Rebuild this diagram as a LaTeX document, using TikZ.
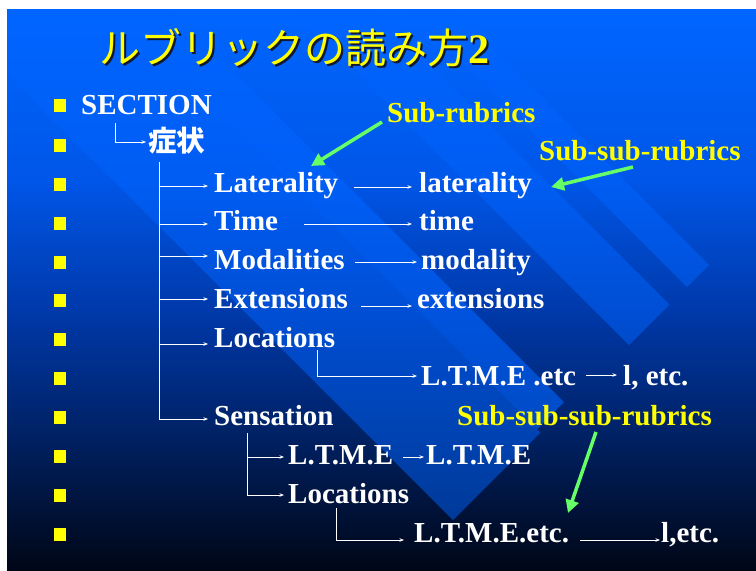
\documentclass[tikz,border=0pt]{standalone}
\usepackage{fontspec}
\setmainfont{Liberation Serif}
\newfontfamily\cjk{Noto Sans CJK JP}
\usetikzlibrary{arrows.meta}
\definecolor{bgA}{RGB}{0,102,255}
\definecolor{bgB}{RGB}{0,86,232}
\definecolor{bgC}{RGB}{0,55,165}
\definecolor{bgD}{RGB}{0,28,85}
\definecolor{bgE}{RGB}{0,6,22}
\definecolor{stripecol}{RGB}{0,100,255}
\definecolor{ylw}{RGB}{255,255,0}
\definecolor{grn}{RGB}{102,255,102}
\definecolor{shadowcol}{RGB}{20,25,50}
\newcommand\dstripe[4]{\fill[stripecol,fill opacity=#4]
  ({(-400+#1)/2},{(-400-#1)/2}) -- ({(#3+#1)/2},{(#3-#1)/2}) --
  ({(#3+#2)/2},{(#3-#2)/2}) -- ({(-400+#2)/2},{(-400-#2)/2}) -- cycle;}
\newcommand\ttltext{{\cjk\fontsize{41}{43}\selectfont ルブリックの読み方}{\bfseries\fontsize{42}{44}\selectfont 2}}
\begin{document}
\begin{tikzpicture}[x=1pt,y=-1pt,
  txt/.style={text=white,font=\bfseries\fontsize{29}{31}\selectfont,inner sep=0pt,anchor=base west},
  lbl/.style={txt,text=ylw},
  conn/.style={draw=white,line width=0.8pt,-{Stealth[length=4.5pt,width=3.5pt]}},
  garrow/.style={draw=grn,line width=3.5pt,-{Triangle[length=13pt,width=13pt]}},
  bul/.style={fill=ylw,minimum width=12pt,minimum height=13pt,inner sep=0pt,draw=none},
  ttl/.style={inner sep=0pt,anchor=base west}]
\useasboundingbox (0,0) rectangle (756,571);
\fill[white] (0,0) rectangle (756,571);
% background gradient
\shade[top color=bgA,bottom color=bgB] (7,9) rectangle (756,181);
\shade[top color=bgB,bottom color=bgC] (7,180) rectangle (756,321);
\shade[top color=bgC,bottom color=bgD] (7,320) rectangle (756,461);
\shade[top color=bgD,bottom color=bgE] (7,460) rectangle (756,571);
% diagonal stripes
\begin{scope}
\clip (7,9) rectangle (756,571);
\dstripe{-67}{108}{973}{0.5}
\dstripe{108}{162}{966}{0.62}
\dstripe{284}{365}{974}{0.5}
\dstripe{400}{444}{974}{0.5}
\end{scope}
% title with shadow (one node)
\node[ttl] (ttl) at (99,63)
  {\makebox[0pt][l]{\hspace{2.5pt}\raisebox{-2.5pt}{\color{shadowcol}\ttltext}}\color{ylw}\ttltext};
% bullets
\foreach \yy [count=\i] in {105,145,184,223,262,300,339,378,417,456,495,534}
  \node[bul] (b\i) at (60,\yy) {};
% texts
\node[txt] (sec) at (81,114) {SECTION};
\node[txt,font=\cjk\bfseries\fontsize{28.5}{30}\selectfont] (shz) at (148,151) {症状};
\node[txt] (lat) at (214,192) {Laterality};
\node[txt] (tim) at (214,230) {Time};
\node[txt] (mod) at (214,269) {Modalities};
\node[txt] (ext) at (214,308) {Extensions};
\node[txt] (loc) at (214,347) {Locations};
\node[txt] (sen) at (214,425) {Sensation};
\node[txt] (lat2) at (419,192) {laterality};
\node[txt] (tim2) at (419,230) {time};
\node[txt] (mod2) at (421,269) {modality};
\node[txt] (ext2) at (417,308) {extensions};
\node[txt] (ltme1) at (421,385) {L.T.M.E .etc};
\node[txt] (letc1) at (623,385) {l, etc.};
\node[txt] (ltme2) at (288,464) {L.T.M.E};
\node[txt] (ltme3) at (426,464) {L.T.M.E};
\node[txt] (loc2) at (288,503) {Locations};
\node[txt] (ltme4) at (414,542) {L.T.M.E.etc.};
\node[txt] (letc2) at (661,542) {l,etc.};
\node[lbl] (sr) at (387,122) {Sub-rubrics};
\node[lbl] (ssr) at (539,160) {Sub-sub-rubrics};
\node[lbl] (sssr) at (457,425) {Sub-sub-sub-rubrics};
% connectors
\coordinate (c0) at (115,123);
\draw[conn] (c0) |- ([xshift=-2pt]shz.west |- 0,142);
\coordinate (t1) at (159,162);
\draw[conn] (t1) |- ([xshift=-6pt]sen.west |- 0,419);
\draw[conn] (t1 |- 0,186) -- ([xshift=-6pt]lat.west |- 0,186);
\draw[conn] (t1 |- 0,224) -- ([xshift=-6pt]tim.west |- 0,224);
\draw[conn] (t1 |- 0,256) -- ([xshift=-6pt]mod.west |- 0,256);
\draw[conn] (t1 |- 0,299) -- ([xshift=-6pt]ext.west |- 0,299);
\draw[conn] (t1 |- 0,344) -- ([xshift=-6pt]loc.west |- 0,344);
\draw[conn] ([xshift=16pt]lat.east |- 0,187) -- ([xshift=-7pt]lat2.west |- 0,187);
\draw[conn] ([xshift=26pt]tim.east |- 0,224) -- ([xshift=-7pt]tim2.west |- 0,224);
\draw[conn] ([xshift=10pt]mod.east |- 0,262) -- ([xshift=-4pt]mod2.west |- 0,262);
\draw[conn] ([xshift=13pt]ext.east |- 0,306) -- ([xshift=-5pt]ext2.west |- 0,306);
\coordinate (c1) at (317,350);
\draw[conn] (c1) |- ([xshift=-4pt]ltme1.west |- 0,376);
\draw[conn] ([xshift=10pt]ltme1.east |- 0,375) -- ([xshift=-6pt]letc1.west |- 0,375);
\coordinate (t2) at (247,433);
\draw[conn] (t2) |- ([xshift=-4pt]ltme2.west |- 0,457);
\draw[conn] (t2) |- ([xshift=-4pt]loc2.west |- 0,495);
\draw[conn] ([xshift=10pt]ltme2.east |- 0,457) -- ([xshift=-2pt]ltme3.west |- 0,457);
\coordinate (c3) at (336,508);
\draw[conn] (c3) |- ([xshift=-10pt]ltme4.west |- 0,540);
\draw[conn] ([xshift=11pt]ltme4.east |- 0,540) -- ([xshift=-1pt]letc2.west |- 0,540);
% green arrows
\draw[garrow] ([xshift=-5pt]sr.base west) -- ([xshift=97pt,yshift=26pt]lat.base west);
\draw[garrow] ([xshift=94pt,yshift=-7pt]ssr.base west) -- ([xshift=132pt,yshift=5pt]lat2.base west);
\draw[garrow] ([xshift=139pt,yshift=-7pt]sssr.base west) -- ([xshift=154pt,yshift=29pt]ltme4.base west);
\end{tikzpicture}
\end{document}
